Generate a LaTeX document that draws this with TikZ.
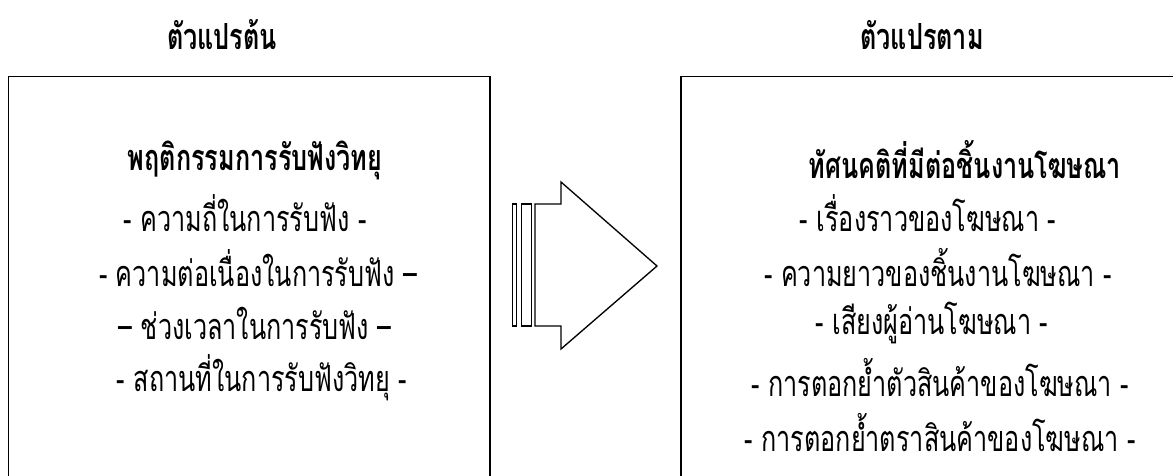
\documentclass[tikz,border=0pt]{standalone}
\usepackage{fontspec}
\newfontfamily\thaifont[Script=Thai,FakeStretch=0.7]{Loma}
\begin{document}
\begin{tikzpicture}[x=0.75pt,y=-0.75pt,
  txt/.style={inner sep=0pt, font=\thaifont\fontsize{27}{30}\selectfont},
  hdr/.style={inner sep=0pt, font=\thaifont\bfseries\fontsize{27}{30}\selectfont},
  boxline/.style={draw=black, line width=1.4pt},
  arrowline/.style={draw=black, line width=1pt, line join=miter}]
\path[use as bounding box] (0,0) rectangle (1173,475);
\clip (0,0) rectangle (1173,475);
% boxes
\draw[boxline] (8.5,520) -- (8.5,76.5) -- (490,76.5) -- (490,520);
\draw[boxline] (681,520) -- (681,76.5) -- (1200,76.5);
% arrow
\draw[arrowline] (535,204) -- (561,204) -- (561,182) -- (657,266) -- (561,349) -- (561,326) -- (535,326) -- cycle;
\draw[arrowline] (512.7,204) rectangle (516.7,326);
\draw[arrowline] (521.7,204) rectangle (531.3,326);
% titles
\node[hdr] (tl) at (222,35) {ตัวแปรต้น};
\node[hdr] (tr) at (922,35) {ตัวแปรตาม};
% left column
\node[hdr] (l0) at (255,160) {พฤติกรรมการรับฟังวิทยุ};
\node[txt] (l1) at (245,213) {- ความถี่ในการรับฟัง -};
\node[txt] (l2) at (258,268) {- ความต่อเนื่องในการรับฟัง –};
\node[txt] (l3) at (255,323) {– ช่วงเวลาในการรับฟัง –};
\node[txt] (l4) at (262,378) {- สถานที่ในการรับฟังวิทยุ -};
% right column
\node[hdr] (r0) at (965,160) {ทัศนคติที่มีต่อชิ้นงานโฆษณา};
\node[txt] (r1) at (928,213) {- เรื่องราวของโฆษณา -};
\node[txt] (r2) at (938,268) {- ความยาวของชิ้นงานโฆษณา -};
\node[txt] (r3) at (932,323) {- เสียงผู้อ่านโฆษณา -};
\node[txt] (r4) at (940,378) {- การตอกย้ำตัวสินค้าของโฆษณา -};
\node[txt] (r5) at (940,433) {- การตอกย้ำตราสินค้าของโฆษณา -};
\end{tikzpicture}
\end{document}
